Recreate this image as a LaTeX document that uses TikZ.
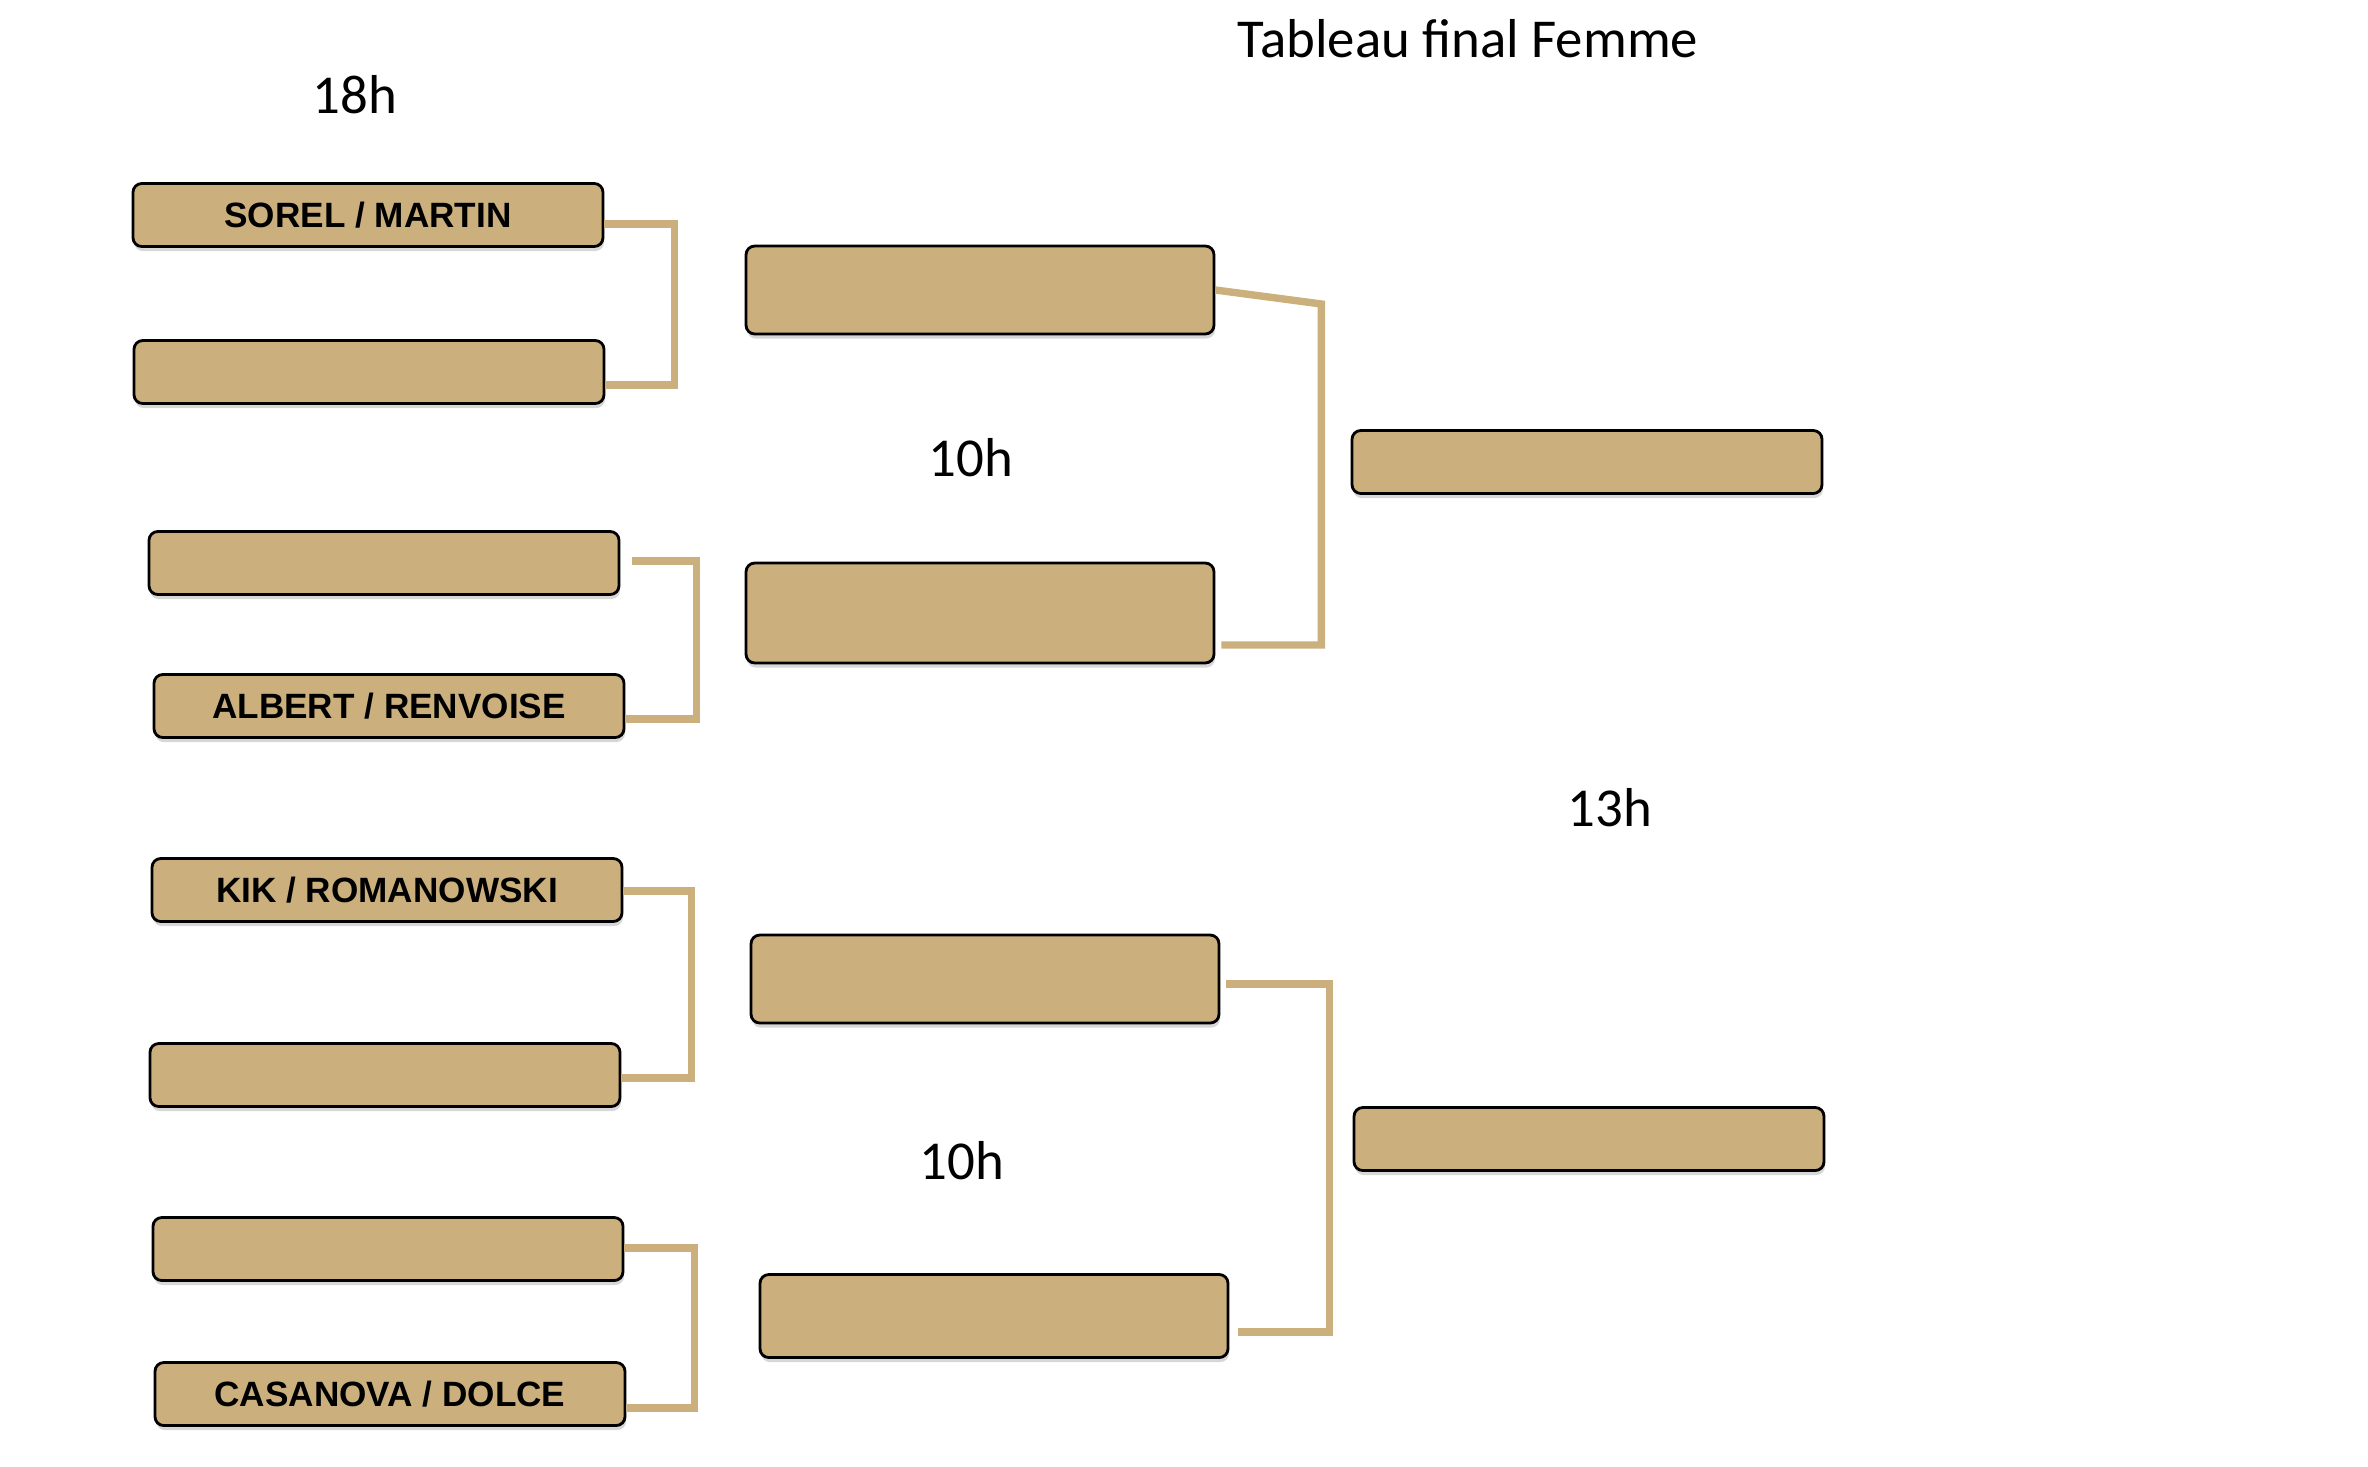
\documentclass[tikz,border=0pt]{standalone}
\usepackage{fontspec}
\setmainfont{Carlito}
\newfontfamily\namefont{Liberation Sans}
\usetikzlibrary{shadows}
\definecolor{sable}{HTML}{CBB07E}
\tikzset{
  team/.style={draw=black, line width=0.8pt, fill=sable, rounded corners=2.5pt,
    minimum width=4.7cm, minimum height=0.63cm, inner sep=0pt,
    font=\namefont\bfseries\fontsize{10}{12}\selectfont,
    drop shadow={shadow xshift=0.3pt, shadow yshift=-1.3pt, opacity=0.35, fill=black!45}},
  bracket/.style={draw=sable, line width=2.1pt},
  hour/.style={font=\fontsize{15.6}{18}\selectfont}
}

\begin{document}
\begin{tikzpicture}

\useasboundingbox (0,0) rectangle (23.68,-14.66);

% premier tour
\node[team] (a1) at (3.68,-2.15) {SOREL / MARTIN};
\node[team] (a2) at (3.69,-3.72) {};
\node[team] (a3) at (3.84,-5.63) {};
\node[team] (a4) at (3.89,-7.06) {ALBERT / RENVOISE};
\node[team] (a5) at (3.87,-8.90) {KIK / ROMANOWSKI};
\node[team] (a6) at (3.85,-10.75) {};
\node[team] (a7) at (3.88,-12.49) {};
\node[team] (a8) at (3.90,-13.94) {CASANOVA / DOLCE};

% demi-finales
\node[team, minimum width=4.68cm, minimum height=0.88cm] (b1) at (9.80,-2.90) {};
\node[team, minimum width=4.68cm, minimum height=1.00cm] (b2) at (9.80,-6.13) {};
\node[team, minimum width=4.68cm, minimum height=0.88cm] (b3) at (9.85,-9.79) {};
\node[team, minimum width=4.68cm, minimum height=0.83cm] (b4) at (9.94,-13.16) {};

% finales
\node[team] (c1) at (15.87,-4.62) {};
\node[team] (c2) at (15.89,-11.39) {};

% crochets
\draw[bracket] ([yshift=-0.9mm]a1.east) -- ++(0.70,0) |- ([yshift=-1.3mm]a2.east);
\draw[bracket] ([xshift=1.2mm,yshift=0.2mm]a3.east) -- ++(0.64,0) |- ([yshift=-1.3mm]a4.east);
\draw[bracket] ([yshift=-0.1mm]a5.east) -- ++(0.68,0) |- ([yshift=-0.3mm]a6.east);
\draw[bracket] ([yshift=0.1mm]a7.east) -- ++(0.70,0) |- ([yshift=-1.4mm]a8.east);
\draw[bracket] (b1.east) -- ++(1.06,-0.14) |- ([xshift=0.6mm,yshift=-3.2mm]b2.east);
\draw[bracket] ([xshift=0.6mm,yshift=-0.5mm]b3.east) -- ++(1.03,0) |- ([xshift=0.9mm,yshift=-1.6mm]b4.east);

% horaires
\node[hour] (titre) at (14.68,-0.39) {Tableau final Femme};
\node[hour] (h18) at (3.55,-0.95) {18h};
\node[hour] (h10a) at (9.71,-4.58) {10h};
\node[hour] (h10b) at (9.62,-11.61) {10h};
\node[hour] (h13) at (16.10,-8.08) {13h};

\end{tikzpicture}
\end{document}
